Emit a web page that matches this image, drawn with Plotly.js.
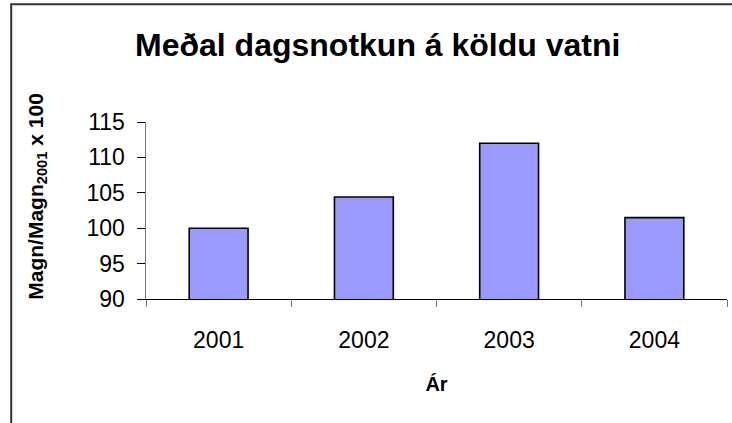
<!DOCTYPE html>
<html>
<head>
<meta charset="utf-8">
<script src="https://cdn.plot.ly/plotly-3.0.1.min.js"></script>
<style>
html,body{margin:0;padding:0;background:#fff;}
#chart{width:732px;height:423px;}
</style>
</head>
<body>
<div id="chart"></div>
<script>
var years = ['2001', '2002', '2003', '2004'];
var values = [100.0, 104.4, 112.0, 101.5];
var yTicks = [90, 95, 100, 105, 110, 115];

var font = 'Liberation Sans, Arial, sans-serif';

var trace = {
  type: 'bar',
  x: years,
  y: values,
  marker: {color: '#9999FF', line: {color: '#000000', width: 1.6}},
  hoverinfo: 'x+y'
};

var layout = {
  width: 732,
  height: 423,
  margin: {l: 146, r: 5, t: 122, b: 124},
  paper_bgcolor: '#ffffff',
  plot_bgcolor: '#ffffff',
  showlegend: false,
  bargap: 0.595,
  title: {
    text: '<b>Meðal dagsnotkun á köldu vatni</b>',
    font: {family: font, size: 32, color: '#000'},
    x: 0.516, xref: 'container', xanchor: 'center',
    y: 0.893, yref: 'container', yanchor: 'middle'
  },
  xaxis: {
    type: 'category',
    tickson: 'boundaries',
    ticks: 'outside', ticklen: 7, tickcolor: '#777', tickwidth: 1,
    showline: true, linecolor: '#000', linewidth: 1,
    showgrid: false, zeroline: false,
    tickfont: {family: font, size: 23, color: '#000'},
    ticklabelstandoff: 20,
    title: {text: '<b>Ár</b>', font: {family: font, size: 20, color: '#000'}, standoff: 25}
  },
  yaxis: {
    range: [90, 115],
    tickvals: yTicks,
    ticks: 'outside', ticklen: 8, tickcolor: '#000', tickwidth: 1,
    showline: true, linecolor: '#777', linewidth: 1.5,
    showgrid: false, zeroline: false,
    tickfont: {family: font, size: 23, color: '#000'},
    ticklabelstandoff: 7
  },
  annotations: [{
    text: '<b>Magn/Magn<sub>2001</sub> x 100</b>',
    textangle: -90,
    xref: 'paper', yref: 'paper',
    x: -0.188, y: 0.582,
    xanchor: 'center', yanchor: 'middle',
    showarrow: false,
    font: {family: font, size: 21, color: '#000'}
  }],
  shapes: [{
    type: 'rect', xref: 'paper', yref: 'paper',
    x0: -0.232, x1: 2, y0: -3, y1: 1.665,
    line: {color: '#333', width: 2}, fillcolor: 'rgba(0,0,0,0)', layer: 'above'
  }]
};

Plotly.newPlot('chart', [trace], layout, {displayModeBar: false, staticPlot: true});
</script>
</body>
</html>
